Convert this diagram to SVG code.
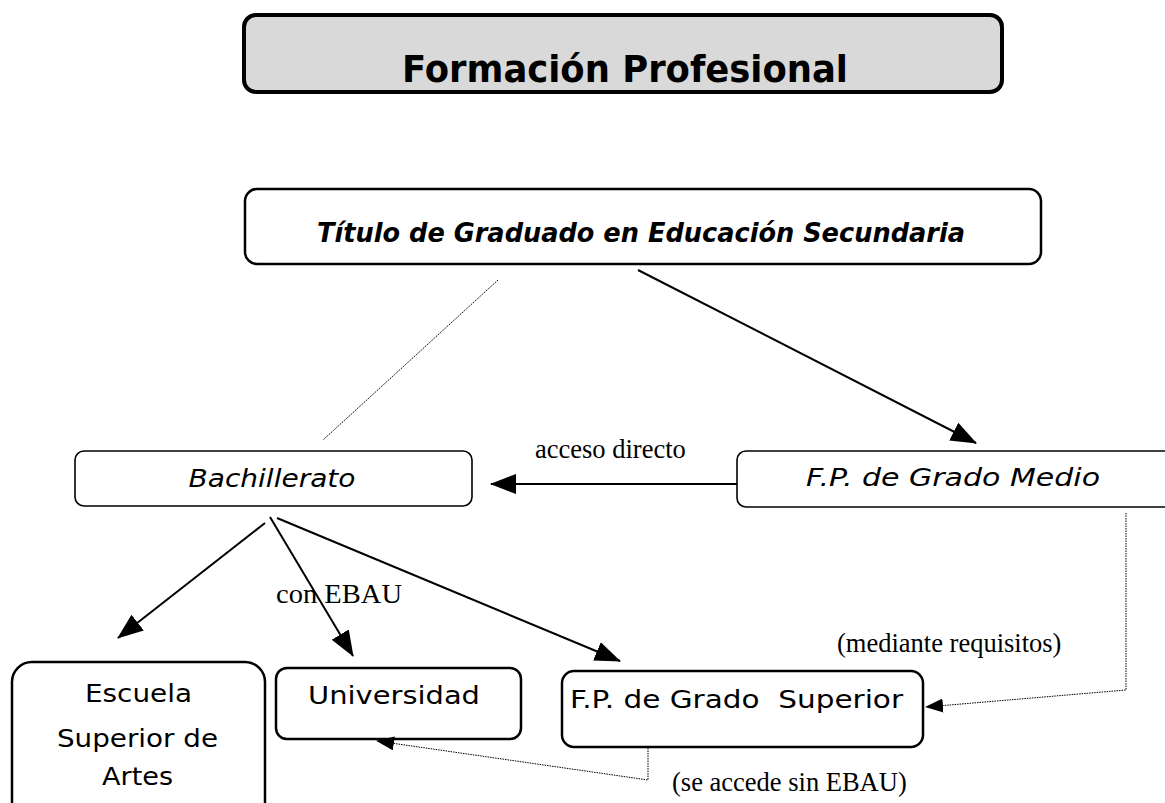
<svg xmlns="http://www.w3.org/2000/svg" width="1165" height="803" viewBox="0 0 1165 803">
<style>
.box{fill:#fff;stroke:#000;stroke-width:2.5}
.thin{stroke-width:1.6}
.gothic{font-family:"DejaVu Sans","Liberation Sans",sans-serif;fill:#000;text-anchor:middle}
.node{font-size:25px}
.serif{font-family:"Liberation Serif","Times New Roman",serif;font-size:26.5px;fill:#000}
.solid{fill:none;stroke:#000;stroke-width:2}
.dot{fill:none;stroke:#000;stroke-width:1;stroke-dasharray:1.5 1}
</style>
<defs>
<marker id="ah" markerUnits="userSpaceOnUse" markerWidth="26" markerHeight="20" viewBox="0 0 26 20" refX="25" refY="10" orient="auto">
<path d="M0,0 L26,10 L0,20 Z" fill="#000"/>
</marker>
<marker id="ahs" markerUnits="userSpaceOnUse" markerWidth="18" markerHeight="14" viewBox="0 0 18 14" refX="17" refY="7" orient="auto">
<path d="M0,0 L18,7 L0,14 Z" fill="#000"/>
</marker>
</defs>
<rect width="1165" height="803" fill="#fff"/>
<g id="titulo-principal">
<rect x="244" y="15" width="758" height="77" rx="12" fill="#d9d9d9" stroke="#000" stroke-width="4"/>
<text class="gothic" x="625" y="82" font-size="38" font-weight="bold" textLength="446" lengthAdjust="spacingAndGlyphs">Formación Profesional</text>
</g>
<g id="graduado">
<rect x="245" y="189" width="796" height="75" rx="12" class="box" stroke-width="3.5"/>
<text class="gothic" x="641" y="242" font-size="26" font-weight="bold" font-style="italic" textLength="648" lengthAdjust="spacingAndGlyphs">Título de Graduado en Educación Secundaria</text>
</g>
<g id="bachillerato">
<rect x="75" y="451" width="397" height="55" rx="9" class="box thin"/>
<text class="gothic" x="272" y="487" font-size="24" font-style="italic" textLength="167" lengthAdjust="spacingAndGlyphs">Bachillerato</text>
</g>
<g id="fp-medio">
<rect x="737" y="451" width="440" height="56" rx="9" class="box thin"/>
<text class="gothic" x="953" y="486" font-size="24" font-style="italic" textLength="294" lengthAdjust="spacingAndGlyphs">F.P. de Grado Medio</text>
</g>
<g id="escuela">
<rect x="12" y="662" width="253" height="170" rx="20" class="box"/>
<text class="gothic node" x="138.5" y="702" textLength="107" lengthAdjust="spacingAndGlyphs">Escuela</text>
<text class="gothic node" x="137.5" y="747" textLength="161" lengthAdjust="spacingAndGlyphs">Superior de</text>
<text class="gothic node" x="137.5" y="785" textLength="71" lengthAdjust="spacingAndGlyphs">Artes</text>
</g>
<g id="universidad">
<rect x="276" y="668" width="245" height="71" rx="11" class="box"/>
<text class="gothic node" x="394" y="704" textLength="172" lengthAdjust="spacingAndGlyphs">Universidad</text>
</g>
<g id="fp-superior">
<rect x="562" y="671" width="361" height="76" rx="12" class="box"/>
<text class="gothic node" x="736.5" y="708" font-size="26" textLength="333" lengthAdjust="spacingAndGlyphs" xml:space="preserve" style="white-space:pre">F.P. de Grado  Superior</text>
</g>
<g id="conectores">
<line class="dot" x1="498" y1="280" x2="323" y2="440"/>
<line class="solid" x1="638" y1="270" x2="976" y2="443" marker-end="url(#ah)"/>
<line class="solid" x1="737" y1="484" x2="491" y2="484" marker-end="url(#ah)"/>
<line class="solid" x1="265" y1="523" x2="118" y2="638" marker-end="url(#ah)"/>
<line class="solid" x1="270" y1="517" x2="353" y2="656" marker-end="url(#ah)"/>
<line class="solid" x1="277" y1="518" x2="620" y2="661" marker-end="url(#ah)"/>
<polyline class="dot" points="1126,513 1126,690 926,707" marker-end="url(#ahs)"/>
<polyline class="dot" points="648,748 648,780 377,741" marker-end="url(#ahs)"/>
</g>
<g id="etiquetas">
<text class="serif" x="535" y="458">acceso directo</text>
<text class="serif" x="276" y="603" font-size="27" textLength="126" lengthAdjust="spacingAndGlyphs">con EBAU</text>
<text class="serif" x="837" y="652">(mediante requisitos)</text>
<text class="serif" x="672" y="791">(se accede sin EBAU)</text>
</g>
</svg>
